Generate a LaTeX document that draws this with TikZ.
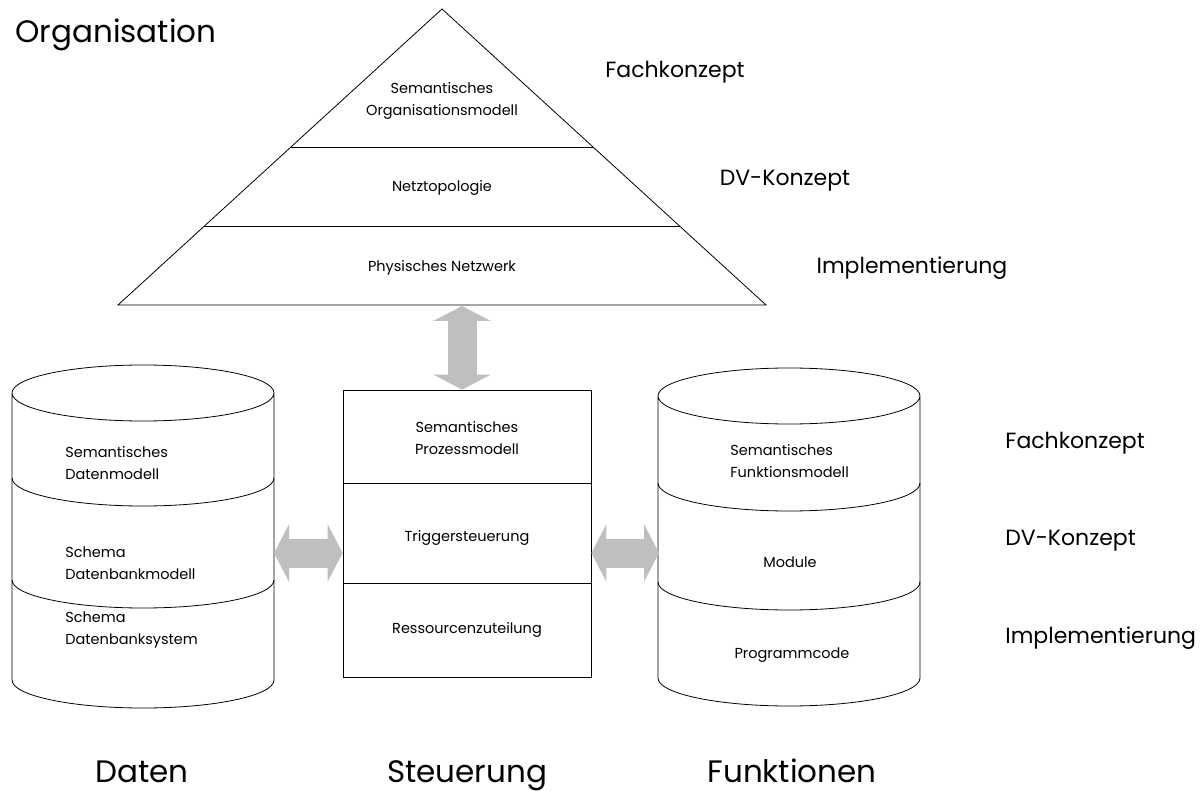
\documentclass[tikz,border=0pt]{standalone}
\usepackage{fontspec}
\setmainfont{Poppins}
\usetikzlibrary{calc,positioning,arrows.meta}

\begin{document}
\begin{tikzpicture}[x=1pt, y=-1pt, line width=0.8pt, font=\fontsize{14.5}{22}\selectfont]
    \tikzstyle{small}=[font=\fontsize{14.5}{22}\selectfont, inner sep=0pt]
    \tikzstyle{layer}=[font=\fontsize{22}{26}\selectfont, inner sep=0pt]
    \tikzstyle{title}=[font=\fontsize{31}{36}\selectfont, inner sep=0pt]
    \tikzstyle{biarrow}=[draw=black!25, line width=29pt, {Triangle[width=57pt,length=15pt]}-{Triangle[width=57pt,length=15pt]}]

    \useasboundingbox (0,0) rectangle (1204,791);

    % pyramid
    \coordinate (apex) at (442,9);
    \coordinate (bl) at (118,305);
    \coordinate (br) at (766,305);
    \draw (apex) -- (bl) -- (br) -- cycle;
    \draw ($(apex)!0.466!(bl)$) -- ($(apex)!0.466!(br)$);
    \draw ($(apex)!0.736!(bl)$) -- ($(apex)!0.736!(br)$);
    \node[small, align=center] (orgmod) at (442,101) {Semantisches\\Organisationsmodell};
    \node[small] (netz) at (442,188) {Netztopologie};
    \node[small] (phys) at (442,268) {Physisches Netzwerk};

    \node[title] (org) at (116,35) {Organisation};
    \node[layer] (fk1) at (675,72) {Fachkonzept};
    \node[layer] (dv1) at (785,181) {DV-Konzept};
    \node[layer] (im1) at (912,268) {Implementierung};

    % Daten
    \draw (12,393) arc[start angle=180, end angle=-180, x radius=131, y radius=28]
          -- (12,680) arc[start angle=180, end angle=0, x radius=131, y radius=28] -- (274,393);
    \foreach \yy in {478,580}
        \draw (12,\yy) arc[start angle=180, end angle=0, x radius=131, y radius=28];
    \node[small, anchor=west, align=left] (dat1) at (65,463) {Semantisches\\Datenmodell};
    \node[small, anchor=west, align=left] (dat2) at (65,563) {Schema\\Datenbankmodell};
    \node[small, anchor=west, align=left] (dat3) at (65,630) {Schema\\Datenbanksystem};
    \coordinate (datR) at (274,553);

    % Steuerung
    \node[draw, minimum width=248pt, minimum height=287pt, inner sep=0pt] (steuer) at (467,533.5) {};
    \draw (343,483) -- (591,483);
    \draw (343,583) -- (591,583);
    \node[small, align=center] (st1) at (467,438) {Semantisches\\Prozessmodell};
    \node[small] (st2) at (467,538) {Triggersteuerung};
    \node[small] (st3) at (467,630) {Ressourcenzuteilung};

    % Funktionen
    \draw (658,396) arc[start angle=180, end angle=-180, x radius=131, y radius=28]
          -- (658,678) arc[start angle=180, end angle=0, x radius=131, y radius=28] -- (920,396);
    \foreach \yy in {483,582}
        \draw (658,\yy) arc[start angle=180, end angle=0, x radius=131, y radius=28];
    \node[small, anchor=west, align=left] (fn1) at (730,461) {Semantisches\\Funktionsmodell};
    \node[small] (fn2) at (790,562) {Module};
    \node[small] (fn3) at (792,655) {Programmcode};
    \coordinate (fnL) at (659,553);

    \node[layer, anchor=west] (fk2) at (1005,443) {Fachkonzept};
    \node[layer, anchor=west] (dv2) at (1005,541) {DV-Konzept};
    \node[layer, anchor=west] (im2) at (1005,638) {Implementierung};

    % arrows
    \coordinate (pyrB) at (462,306);
    \draw[biarrow] (pyrB) -- (pyrB |- steuer.north);
    \draw[biarrow] (datR) -- (datR -| steuer.west);
    \draw[biarrow] (datR -| steuer.east) -- (fnL);

    \node[title, anchor=base] (daten) at (142,782) {Daten};
    \node[title, anchor=base] (steu) at (467,782) {Steuerung};
    \node[title, anchor=base] (funk) at (792,782) {Funktionen};
\end{tikzpicture}
\end{document}
